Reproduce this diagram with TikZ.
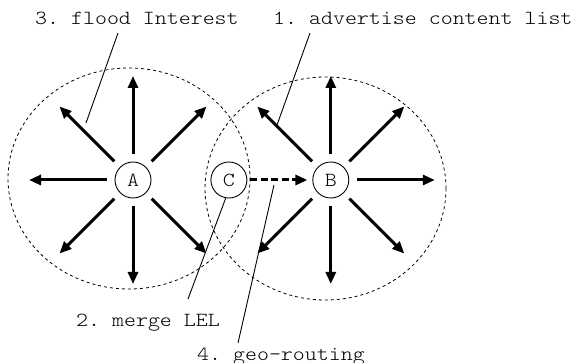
\documentclass[tikz,border=0pt]{standalone}
\usepackage{fontspec}
\setmonofont{lmmonolt10-regular}[Extension=.otf,FakeStretch=1.14]
\usepackage{tikz}
\usetikzlibrary{positioning}
\usetikzlibrary{arrows.meta}

\begin{document}
\begin{tikzpicture}[x=1pt,y=-1pt,>={Triangle[length=12pt,width=10pt]},
  host node/.style={circle,draw,line width=0.9pt,minimum size=36pt,inner sep=0pt,font=\ttfamily\fontsize{20}{24}\selectfont},
  zone/.style={draw,line width=0.8pt,dash pattern=on 3pt off 3pt},
  ray/.style={->,line width=3pt},
  leader/.style={line width=0.9pt},
  step text/.style={anchor=base west,inner sep=0pt,font=\ttfamily\fontsize{20}{24}\selectfont}]
\useasboundingbox (0,0) rectangle (571,363);

\node[host node] (A) at (133,180) {A};
\node[host node] (C) [right = 59pt of A] {C};
\node[host node] (B) [right = 65pt of C] {B};

% radio ranges
\draw[zone] (129,178.5) ellipse [x radius=121, y radius=110.5];
\draw[zone] (325.5,188.5) ellipse [x radius=120.5, y radius=111.5];

% no ray on the side facing C
\foreach \a in {45,90,...,315} {
  \draw[ray,shorten <=8pt] (A) -- ++(\a:104pt);
}
\foreach \a in {0,45,90,135,225,270,315} {
  \draw[ray,shorten <=8pt] (B) -- ++(\a:104pt);
}
\draw[ray,dash pattern=on 7pt off 3.5pt,shorten <=3pt,shorten >=5pt] (C) -- (B);

\node[step text] (advertise) at (273,25) {1. advertise content list};
\node[step text] (merge) at (76,326.7) {2. merge LEL};
\node[step text] (flood) at (35,25) {3. flood Interest};
\node[step text] (georoute) at (197,361) {4. geo-routing};

\coordinate (floodEnd) at (86,123);
\coordinate (advertiseEnd) at (277,125);
\coordinate (georouteEnd) at (274,185);

\draw[leader] ([xshift=37pt,yshift=-8pt]advertise.base west) -- (advertiseEnd);
\draw[leader] ([xshift=112pt,yshift=27.7pt]merge.base west) -- (C.260);
\draw[leader] ([xshift=83pt,yshift=-8pt]flood.base west) -- (floodEnd);
\draw[leader] ([xshift=41pt,yshift=18pt]georoute.base west) -- (georouteEnd);
\end{tikzpicture}
\end{document}
